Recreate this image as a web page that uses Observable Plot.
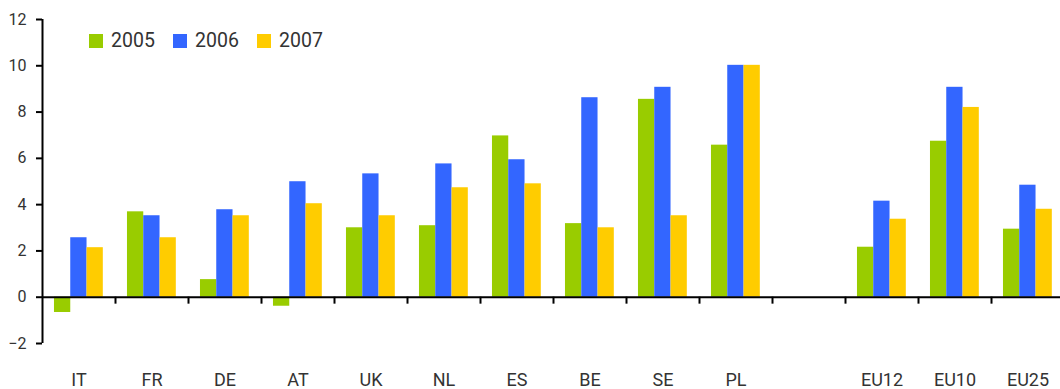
<!DOCTYPE html>
<html>
<head>
<meta charset="utf-8">
<script src="https://cdn.jsdelivr.net/npm/d3@7"></script>
<script src="https://cdn.jsdelivr.net/npm/@observablehq/plot@0.6"></script>
<style>
  html, body { margin: 0; padding: 0; background: #fff; }
  #wrap { position: relative; width: 1060px; height: 389px; font-family: Roboto, sans-serif; }
  #legend { position: absolute; left: 89px; top: 29px; display: flex; gap: 0; font-size: 19.5px; color: #333; }
  .item { display: flex; align-items: center; width: 84px; }
  .sw { width: 14px; height: 14px; margin-right: 8px; }
</style>
</head>
<body>
<div id="wrap"><div id="legend"></div></div>
<script>
const categories = ["IT","FR","DE","AT","UK","NL","ES","BE","SE","PL","","EU12","EU10","EU25"];
const years = ["2005","2006","2007"];
const v2005 = [-0.66, 3.69, 0.76, -0.39, 3.0, 3.09, 6.97, 3.18, 8.55, 6.57, null, 2.16, 6.74, 2.94];
const v2006 = [2.57, 3.52, 3.78, 4.99, 5.33, 5.76, 5.94, 8.62, 9.07, 10.02, null, 4.15, 9.07, 4.84];
const v2007 = [2.14, 2.57, 3.52, 4.04, 3.52, 4.73, 4.9, 3.0, 3.52, 10.02, null, 3.37, 8.2, 3.8];
const colors = ["#99cc00", "#3366ff", "#ffcc00"];
const yTicks = [-2, 0, 2, 4, 6, 8, 10, 12];

const series = [v2005, v2006, v2007];
const rows = [];
series.forEach((vals, k) => vals.forEach((v, i) => {
  if (v != null) rows.push({i, k, year: years[k], value: v});
}));

// layout within each category slot (fractions of one slot)
const groupOffset = 0.164, barW = 0.223;

const chart = Plot.plot({
  width: 1060,
  height: 389,
  marginLeft: 42,
  marginRight: 0,
  marginTop: 19,
  marginBottom: 46,
  style: {fontFamily: "Roboto, sans-serif", fontSize: "16px", color: "#333", background: "#fff"},
  x: {domain: [0, categories.length], range: [42, 42 + 73 * categories.length]},
  y: {domain: [-2, 12]},
  color: {domain: years, range: colors},
  marks: [
    Plot.rectY(rows, {
      x1: d => d.i + groupOffset + d.k * barW,
      x2: d => d.i + groupOffset + (d.k + 1) * barW,
      y: "value",
      fill: "year"
    }),
    Plot.ruleY([0], {stroke: "#000", strokeWidth: 2}),
    Plot.ruleX(d3.range(1, categories.length), {y1: 0, y2: -0.3, stroke: "#000", strokeWidth: 2}),
    Plot.ruleX([0], {stroke: "#000", strokeWidth: 2}),
    Plot.axisY({ticks: yTicks, tickSize: 6, tickPadding: 10, stroke: "#000", strokeWidth: 2, label: null, fontSize: 16, fill: "#333"}),
    Plot.axisX({
      ticks: categories.map((c, i) => i + 0.5),
      tickFormat: d => categories[Math.floor(d)],
      tickSize: 0, tickPadding: 30, label: null, fontSize: 18, fill: "#333"
    })
  ]
});
document.getElementById("wrap").prepend(chart);

const legend = document.getElementById("legend");
years.forEach((y, k) => {
  const it = document.createElement("div");
  it.className = "item";
  const sw = document.createElement("span");
  sw.className = "sw";
  sw.style.background = colors[k];
  const t = document.createElement("span");
  t.textContent = y;
  it.append(sw, t);
  legend.append(it);
});
</script>
</body>
</html>
